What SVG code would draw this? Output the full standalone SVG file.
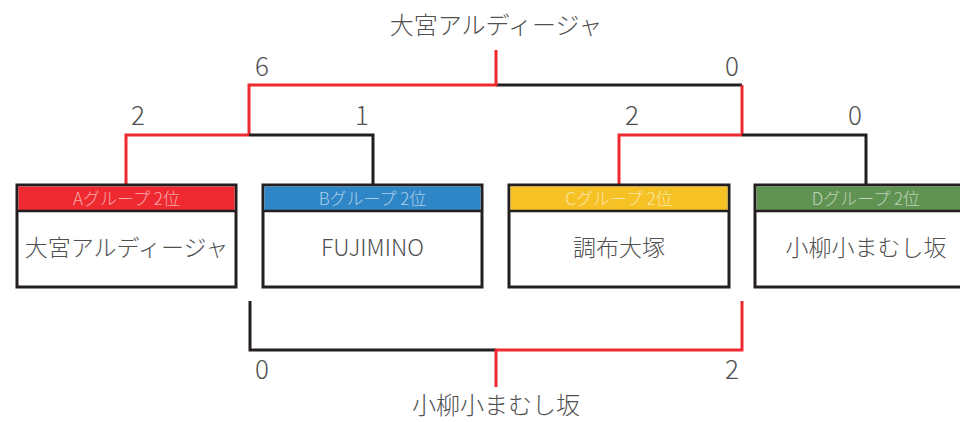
<svg xmlns="http://www.w3.org/2000/svg" width="960" height="422" viewBox="0 0 960 422">
<style>
text{font-family:"Noto Sans CJK JP","Noto Sans",sans-serif;font-weight:200;text-anchor:middle}
.t{font-size:24px;fill:#505050}
.n{font-size:23px;fill:#505050}
.s{font-size:26px;fill:#505050}
.h{font-size:17px;fill:#fff;fill-opacity:0.6}
.box{fill:#fff;stroke:#231f20;stroke-width:3}
.sep{stroke:#231f20;stroke-width:2.5}
.k{fill:none;stroke:#231f20;stroke-width:3}
.r{fill:none;stroke:#ee2a30;stroke-width:3}
</style>
<rect width="960" height="422" fill="#fff"/>
<g id="connectors">
<path class="k" d="M496 85H742"/>
<path class="r" d="M496 50V85H249V135"/>
<path class="r" d="M742 85V135"/>
<path class="k" d="M249 135H373V185"/>
<path class="r" d="M249 135H126V185"/>
<path class="k" d="M742 135H866V185"/>
<path class="r" d="M742 135H619V185"/>
<path class="k" d="M250 301V350H496"/>
<path class="r" d="M742 301V350H496V387"/>
</g>
<g id="labels">
<text class="t" x="496" y="34">大宮アルディージャ</text>
<text class="t" x="496" y="414">小柳小まむし坂</text>
<text class="s" x="262" y="76">6</text>
<text class="s" x="732" y="76">0</text>
<text class="s" x="138" y="125">2</text>
<text class="s" x="362" y="125">1</text>
<text class="s" x="632" y="125">2</text>
<text class="s" x="855" y="125">0</text>
<text class="s" x="262" y="379">0</text>
<text class="s" x="732" y="379">2</text>
</g>
<g id="nodeA">
<rect class="box" x="17" y="185" width="219" height="102"/>
<rect x="18.5" y="186.5" width="216" height="24" fill="#ee2a30"/>
<line class="sep" x1="17" y1="211" x2="236" y2="211"/>
<text class="h" x="126.5" y="204.5">Aグループ 2位</text>
<text class="n" x="126.5" y="256">大宮アルディージャ</text>
</g>
<g id="nodeB">
<rect class="box" x="263" y="185" width="219" height="102"/>
<rect x="264.5" y="186.5" width="216" height="24" fill="#2f86c6"/>
<line class="sep" x1="263" y1="211" x2="482" y2="211"/>
<text class="h" x="372.5" y="204.5">Bグループ 2位</text>
<text class="n" x="372.5" y="256">FUJIMINO</text>
</g>
<g id="nodeC">
<rect class="box" x="509" y="185" width="220" height="102"/>
<rect x="510.5" y="186.5" width="217" height="24" fill="#f6c124"/>
<line class="sep" x1="509" y1="211" x2="729" y2="211"/>
<text class="h" x="619" y="204.5">Cグループ 2位</text>
<text class="n" x="619" y="256">調布大塚</text>
</g>
<g id="nodeD">
<rect class="box" x="755" y="185" width="219" height="102"/>
<rect x="756.5" y="186.5" width="216" height="24" fill="#609252"/>
<line class="sep" x1="755" y1="211" x2="974" y2="211"/>
<text class="h" x="866" y="204.5">Dグループ 2位</text>
<text class="n" x="866" y="256">小柳小まむし坂</text>
</g>
</svg>
